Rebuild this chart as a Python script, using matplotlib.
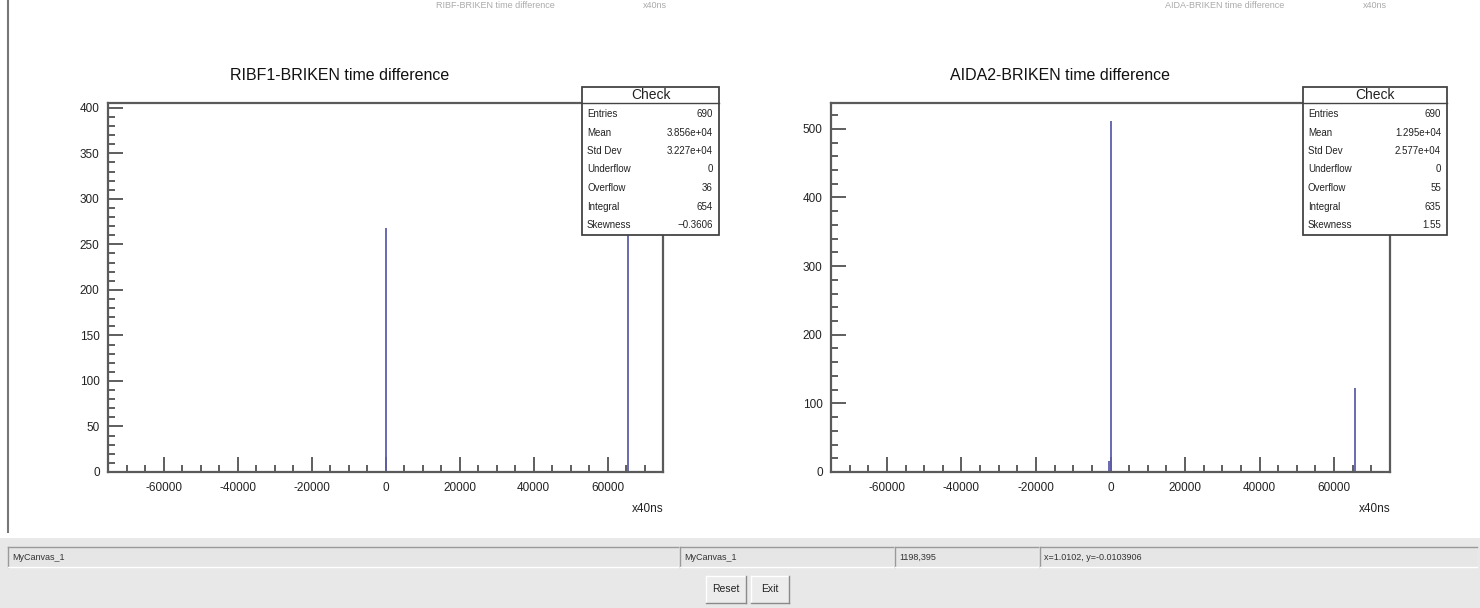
import matplotlib.pyplot as plt
from matplotlib.patches import Rectangle
from matplotlib.ticker import MultipleLocator
from matplotlib.lines import Line2D

plt.rcParams['font.family'] = ['Liberation Sans', 'DejaVu Sans']
plt.rcParams['axes.unicode_minus'] = False

W, H = 1480, 608

# histogram content (bin position in x40ns, counts)
ribf_x = [0, 65535]
ribf_counts = [268, 386]
aida_x = [-300, 200, 65535]
aida_counts = [16, 512, 122]

stat_names = ['Entries', 'Mean', 'Std Dev', 'Underflow', 'Overflow', 'Integral', 'Skewness']
ribf_stats = ['690', '3.856e+04', '3.227e+04', '0', '36', '654', '\u22120.3606']
aida_stats = ['690', '1.295e+04', '2.577e+04', '0', '55', '635', '1.55']

titles = ['RIBF1-BRIKEN time difference', 'AIDA2-BRIKEN time difference']
xticks = [-60000, -40000, -20000, 0, 20000, 40000, 60000]
line_col = '#5e5eab'
frame_col = '#5a5a5a'


def fx(x):
    return x / W


def fy(y):
    return 1 - y / H


def rect(fig, x0, y0, x1, y1, **kw):
    r = Rectangle((fx(x0), fy(y1)), fx(x1) - fx(x0), fy(y0) - fy(y1),
                  transform=fig.transFigure, **kw)
    fig.patches.append(r)


def hline(fig, x0, x1, y, **kw):
    fig.lines.append(Line2D([fx(x0), fx(x1)], [fy(y), fy(y)], transform=fig.transFigure, **kw))


def vline(fig, x, y0, y1, **kw):
    fig.lines.append(Line2D([fx(x), fx(x)], [fy(y0), fy(y1)], transform=fig.transFigure, **kw))


def make_panel(fig, box, xs, counts, ymajor, yminor, title, title_x):
    l, t, r, b = box
    ax = fig.add_axes([fx(l), fy(b), fx(r) - fx(l), fy(t) - fy(b)])
    ax.vlines(xs, 0, counts, color=line_col, lw=1.3)
    ax.set_xlim(-75000, 75000)
    ax.set_ylim(0, max(counts) * 1.05)
    ax.set_xticks(xticks)
    ax.xaxis.set_minor_locator(MultipleLocator(5000))
    ax.yaxis.set_major_locator(MultipleLocator(ymajor))
    ax.yaxis.set_minor_locator(MultipleLocator(yminor))
    ax.tick_params(which='both', direction='in', color='#333333', width=1.1,
                   labelsize=8.5, labelcolor='#222222')
    ax.tick_params(which='major', length=11)
    ax.tick_params(which='minor', length=5)
    ax.tick_params(axis='x', pad=7)
    ax.tick_params(axis='y', pad=6)
    for s in ax.spines.values():
        s.set_color(frame_col)
        s.set_linewidth(1.6)
    ax.text(1.0, -0.085, 'x40ns', transform=ax.transAxes, ha='right', va='top',
            fontsize=8.5, color='#222222')
    fig.text(fx(title_x), fy(75), title, ha='center', va='center', fontsize=11.5, color='#111111')
    return ax


def stats_box(fig, x0, x1, values):
    y0, y1 = 87, 235
    rect(fig, x0, y0, x1, y1, facecolor='white', edgecolor='#444444', lw=1.3, zorder=5)
    hline(fig, x0, x1, 103, color='#444444', lw=1.0, zorder=6)
    fig.text(fx((x0 + x1) / 2), fy(95), 'Check', ha='center', va='center', fontsize=10,
             color='#222222', zorder=7)
    for i, (name, val) in enumerate(zip(stat_names, values)):
        y = 114 + i * 18.5
        fig.text(fx(x0 + 5), fy(y), name, ha='left', va='center', fontsize=7,
                 color='#222222', zorder=7)
        fig.text(fx(x1 - 6), fy(y), val, ha='right', va='center', fontsize=7,
                 color='#222222', zorder=7)


fig = plt.figure(figsize=(W / 100, H / 100), dpi=100)
fig.patch.set_facecolor('white')

# faint text from the pad above, at the very top edge
for cx, txt in [(495, 'RIBF-BRIKEN time difference'), (655, 'x40ns'),
                (1225, 'AIDA-BRIKEN time difference'), (1375, 'x40ns')]:
    fig.text(fx(cx), fy(1), txt, ha='center', va='top', fontsize=6.5, color='#aaaaaa')

make_panel(fig, (108, 103, 663, 472), ribf_x, ribf_counts, 50, 10, titles[0], 340)
make_panel(fig, (831, 103, 1390, 472), aida_x, aida_counts, 100, 20, titles[1], 1060)
stats_box(fig, 582, 719, ribf_stats)
stats_box(fig, 1303, 1447, aida_stats)

# canvas border on the left
vline(fig, 8, 0, 532, color='#777777', lw=1.5)

# status bar and buttons of the ROOT window
rect(fig, 0, 538, 1480, 608, facecolor='#e8e8e8', edgecolor='none')
fields = [(8, 678, 'MyCanvas_1'), (680, 893, 'MyCanvas_1'), (895, 1038, '1198,395'),
          (1040, 1477, 'x=1.0102, y=-0.0103906')]
for x0, x1, txt in fields:
    rect(fig, x0, 547, x1, 567, facecolor='#e6e6e6', edgecolor='none')
    hline(fig, x0, x1, 547, color='#9a9a9a', lw=1.0)
    vline(fig, x0, 547, 567, color='#9a9a9a', lw=1.0)
    hline(fig, x0, x1, 567, color='#ffffff', lw=1.0)
    fig.text(fx(x0 + 4), fy(557), txt, ha='left', va='center', fontsize=6.5, color='#333333')

for x0, x1, txt in [(706, 746, 'Reset'), (751, 789, 'Exit')]:
    rect(fig, x0, 576, x1, 603, facecolor='#ececec', edgecolor='none')
    hline(fig, x0, x1, 576, color='#ffffff', lw=1.0)
    vline(fig, x0, 576, 603, color='#ffffff', lw=1.0)
    hline(fig, x0, x1, 603, color='#8a8a8a', lw=1.0)
    vline(fig, x1, 576, 603, color='#8a8a8a', lw=1.0)
    cx = (x0 + x1) / 2
    fig.text(fx(cx), fy(589), txt, ha='center', va='center', fontsize=7.5, color='#222222')

fig.savefig('out.png', dpi=100)
